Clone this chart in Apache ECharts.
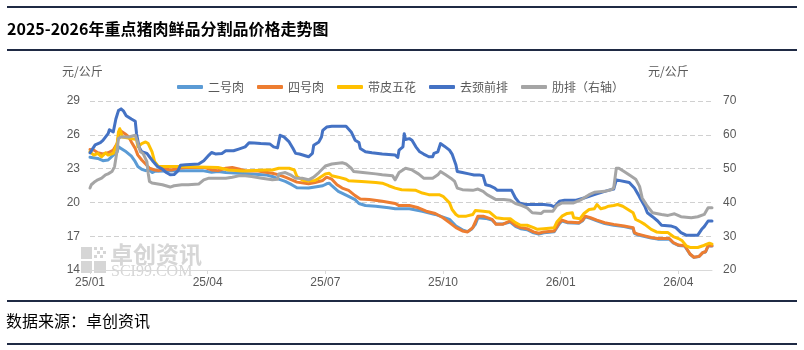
<!DOCTYPE html>
<html><head><meta charset="utf-8">
<script src="https://cdn.jsdelivr.net/npm/echarts@6/dist/echarts.min.js"></script>
<style>html,body{margin:0;padding:0;background:#fff}#c{width:804px;height:350px}</style>
</head><body><div id="c"></div>
<script>
// x values are day offsets from startDate (2025-01-01)
const startDate = '2025-01-01';
const tickLabels = ['25/01','25/04','25/07','25/10','26/01','26/04'];
const seriesNames = ['二号肉','四号肉','带皮五花','去颈前排','肋排（右轴）'];
const erhao = [[0,24.0],[6,23.9],[10,23.7],[14,23.76],[18,24.2],[21,24.49],[22,24.93],[24,24.78],[28,24.49],[32,24.1],[35,23.61],[37,23.18],[40,22.94],[43,22.82],[46,22.88],[48,22.65],[50,22.76],[68,22.82],[87,22.82],[94,22.68],[99,22.74],[105,22.65],[115,22.59],[125,22.53],[136,22.44],[141,22.3],[146,22.06],[151,21.86],[156,21.57],[160,21.3],[169,21.27],[174,21.36],[180,21.48],[183,21.65],[185,21.71],[187,21.48],[192,20.98],[200,20.54],[205,20.25],[208,19.9],[213,19.72],[221,19.66],[231,19.52],[236,19.43],[247,19.43],[257,19.22],[267,18.93],[278,18.49],[283,17.91],[288,17.56],[292,17.41],[295,17.61],[298,18.05],[300,18.64],[306,18.58],[311,18.43],[314,18.08],[319,18.08],[325,18.25],[329,17.88],[333,17.66],[338,17.58],[343,17.3],[347,17.18],[351,17.3],[359,17.4],[363,18.12],[365,18.35],[369,18.2],[378,18.15],[381,18.38],[383,18.72],[387,18.58],[392,18.36],[398,18.12],[405,17.98],[413,17.85],[420,17.68],[421,17.25],[424,17.1],[429,16.97],[434,16.83],[439,16.74],[448,16.74],[451,16.4],[455,16.18],[460,16.12],[464,15.4],[467,15.12],[471,15.2],[474,15.55],[476,15.6],[478,16.12],[481,16.12]];
const sihao = [[0,24.7],[3,24.64],[6,24.4],[10,24.29],[14,24.4],[18,24.64],[21,25.22],[23,26.4],[24,26.54],[27,26.1],[30,25.81],[32,25.37],[35,24.78],[37,24.2],[40,23.76],[43,23.41],[46,23.03],[50,22.88],[53,22.82],[58,22.97],[63,22.88],[68,23.03],[74,23.09],[89,23.09],[94,22.88],[99,22.82],[105,23.03],[110,23.09],[115,22.97],[120,22.82],[130,22.79],[136,22.68],[141,22.59],[146,22.44],[151,22.24],[156,22.0],[160,21.8],[169,21.65],[174,21.77],[180,21.95],[183,22.24],[187,22.06],[191,21.57],[195,21.27],[200,21.07],[205,20.6],[209,20.31],[216,20.25],[226,20.1],[236,19.9],[239,19.72],[247,19.72],[254,19.52],[260,19.22],[267,19.02],[273,18.64],[278,18.2],[283,17.76],[288,17.47],[292,17.38],[296,17.76],[300,18.78],[304,18.78],[311,18.49],[314,18.05],[319,18.05],[325,18.35],[329,17.97],[333,17.76],[338,17.67],[343,17.38],[347,17.26],[351,17.38],[359,17.47],[363,18.2],[365,18.43],[369,18.26],[378,18.2],[381,18.43],[383,18.78],[387,18.64],[392,18.43],[398,18.2],[405,18.05],[413,17.91],[420,17.76],[421,17.32],[424,17.17],[429,17.03],[434,16.88],[439,16.79],[448,16.79],[451,16.44],[455,16.21],[460,16.15],[464,15.42],[467,15.13],[471,15.21],[474,15.56],[476,15.62],[478,16.15],[481,16.15]];
const daipi = [[0,24.49],[3,24.2],[6,24.35],[9,24.05],[12,24.4],[14,24.2],[18,24.35],[21,25.22],[22,26.25],[23,26.54],[25,25.81],[32,25.66],[36,25.58],[37,24.93],[40,25.22],[43,25.37],[45,25.22],[48,24.49],[50,23.61],[53,23.18],[68,23.18],[99,23.09],[107,22.88],[118,22.79],[136,22.88],[141,22.88],[146,23.03],[154,23.03],[158,22.88],[160,22.3],[162,22.15],[165,21.95],[169,21.9],[174,21.95],[177,22.15],[182,22.53],[185,22.59],[187,22.36],[192,22.24],[198,22.06],[200,21.92],[210,21.86],[221,21.77],[226,21.71],[231,21.48],[236,21.27],[241,21.13],[252,21.07],[257,20.83],[262,20.69],[270,20.69],[273,20.54],[278,19.96],[280,19.37],[283,18.93],[285,18.78],[291,18.78],[296,18.93],[298,19.28],[304,19.22],[309,19.14],[314,18.64],[320,18.55],[325,18.55],[329,18.2],[333,17.97],[338,17.97],[343,17.76],[346,17.61],[351,17.67],[359,17.76],[361,18.26],[365,18.78],[369,19.02],[373,19.08],[374,18.64],[379,18.55],[382,19.02],[386,19.37],[390,19.43],[392,19.81],[395,19.43],[398,19.52],[401,19.66],[405,19.72],[408,19.81],[412,19.66],[416,19.37],[420,19.08],[422,18.49],[426,18.26],[429,18.05],[434,17.61],[438,17.38],[442,17.32],[447,17.32],[451,16.97],[455,16.79],[458,16.59],[461,16.15],[464,16.0],[470,16.0],[474,16.15],[476,16.24],[479,16.38],[481,16.3]];
const qujing = [[0,24.4],[4,25.1],[8,25.3],[10,25.5],[14,26.1],[15,26.45],[18,26.25],[20,27.4],[22,28.15],[24,28.3],[26,28.1],[28,27.7],[32,27.4],[35,27.2],[36,26.1],[38,24.9],[40,24.5],[44,24.35],[46,24.05],[49,23.6],[52,23.2],[56,22.95],[59,22.65],[62,22.45],[65,22.47],[68,22.8],[70,23.3],[74,23.35],[84,23.4],[88,23.7],[92,24.2],[94,24.43],[97,24.3],[102,24.35],[105,24.58],[111,24.58],[115,24.73],[120,24.93],[123,25.3],[127,25.28],[132,25.22],[139,25.19],[142,24.93],[145,24.84],[147,25.96],[150,25.81],[154,25.37],[157,24.78],[159,24.35],[162,24.3],[169,24.05],[172,24.35],[173,25.08],[177,25.37],[179,25.81],[180,26.39],[183,26.69],[187,26.75],[198,26.75],[202,26.25],[205,25.52],[208,25.31],[209,24.78],[213,24.49],[218,24.4],[226,24.29],[236,24.2],[238,23.99],[239,24.64],[242,24.93],[243,26.1],[244,25.58],[247,25.66],[249,25.52],[252,24.93],[255,24.49],[258,24.29],[262,24.05],[265,24.05],[266,24.35],[269,24.49],[271,25.22],[274,24.99],[278,24.64],[280,24.29],[283,23.32],[284,22.74],[288,22.65],[293,22.53],[297,22.44],[298,22.53],[301,22.44],[304,22.36],[306,21.57],[309,21.48],[313,21.27],[315,21.07],[326,21.07],[329,20.39],[332,19.96],[336,19.81],[351,19.81],[356,19.75],[359,19.6],[363,20.1],[367,20.19],[376,20.19],[382,20.39],[390,20.69],[398,20.98],[403,21.13],[405,21.19],[407,22.0],[417,21.77],[421,21.27],[424,20.69],[426,20.25],[429,19.66],[431,19.08],[435,18.73],[439,18.35],[442,17.97],[449,17.91],[453,17.76],[457,17.32],[461,17.09],[470,17.09],[473,17.61],[475,17.85],[478,18.35],[481,18.35]];
const leipai = [[0,44.24],[1,45.22],[4,46.2],[6,46.68],[9,47.17],[12,48.15],[14,48.44],[17,49.12],[18,49.12],[19,50.59],[21,55.46],[22,58.88],[24,59.37],[30,59.37],[35,59.85],[36,59.37],[39,54.98],[41,54.49],[44,52.05],[45,48.63],[46,46.2],[48,45.71],[56,45.22],[62,44.54],[65,44.93],[71,45.22],[76,45.22],[84,45.41],[88,46.68],[92,47.17],[105,47.17],[110,47.46],[115,47.85],[120,47.85],[125,47.66],[133,47.17],[141,46.68],[145,46.88],[146,48.44],[151,48.83],[155,48.15],[159,47.17],[164,47.17],[169,46.68],[173,47.46],[177,48.83],[182,50.78],[187,51.37],[195,51.76],[198,51.37],[202,50.1],[204,49.12],[211,48.83],[221,48.44],[226,48.15],[234,47.85],[236,46.68],[239,48.83],[244,50.1],[249,49.61],[254,48.44],[258,47.17],[265,47.17],[269,48.15],[271,49.12],[275,48.15],[279,47.17],[282,46.2],[284,44.24],[288,43.76],[296,43.56],[300,43.95],[304,43.27],[307,42.29],[314,40.83],[320,40.83],[325,40.63],[329,39.66],[334,39.07],[338,38.39],[342,36.93],[349,36.73],[351,37.41],[358,37.41],[361,39.07],[365,39.85],[374,39.85],[380,40.83],[386,42.29],[390,42.98],[398,43.27],[403,43.76],[405,44.24],[407,50.1],[409,50.1],[413,49.12],[418,47.85],[422,46.88],[425,44.73],[427,41.32],[431,38.88],[435,36.93],[442,36.44],[447,36.15],[452,36.63],[457,35.76],[465,35.46],[470,35.76],[475,36.44],[478,38.39],[481,38.39]];
const colors = ['#5B9BD5','#ED7D31','#FFC000','#4472C4','#A5A5A5'];

const chart = echarts.init(document.getElementById('c'), null, {renderer:'canvas'});
const axisFont = 'Liberation Sans';
const dataList = [erhao, sihao, daipi, qujing, leipai];
const series = dataList.map((d, i) => ({
  name: seriesNames[i], type: 'line', data: d, yAxisIndex: i === 4 ? 1 : 0,
  showSymbol: false, symbol: 'none', smooth: false,
  lineStyle: {color: colors[i], width: 3, cap: 'round', join: 'round'},
  itemStyle: {color: colors[i]}, z: 2 + i, animation: false
}));
const line = (y) => ({type:'rect', shape:{x:7, y:y, width:790, height:2}, style:{fill:'#1f2a44'}, silent:true});
const wm = '#d6d6d6';
chart.setOption({
  animation: false,
  backgroundColor: '#fff',
  color: colors,
  grid: {left: 90, right: 92, top: 101, bottom: 80, containLabel: false},
  legend: {
    data: seriesNames, left: 172, top: 76, icon: 'roundRect', itemWidth: 26, itemHeight: 4, itemGap: 13,
    textStyle: {color: '#595959', fontSize: 12, fontFamily: 'Noto Sans CJK SC'}
  },
  xAxis: {
    type: 'value', min: 0, max: 481, interval: 91,
    axisLine: {show: true, lineStyle: {color: '#d9d9d9', width: 1}},
    axisTick: {show: true, length: 4, lineStyle: {color: '#d9d9d9'}},
    splitLine: {show: false},
    axisLabel: {color: '#595959', fontSize: 12, fontFamily: axisFont, margin: 7, showMaxLabel: false,
      formatter: v => (Math.abs(v / 91 - Math.round(v / 91)) < 1e-6 ? (tickLabels[Math.round(v / 91)] || '') : '')}
  },
  yAxis: [
    {type: 'value', min: 14, max: 29, interval: 3, position: 'left',
     axisLine: {show: false}, axisTick: {show: false},
     splitLine: {show: true, showMinLine: false, lineStyle: {color: '#d0d0d0', type: [5, 3], width: 1}},
     axisLabel: {color: '#595959', fontSize: 12, fontFamily: axisFont, margin: 10}},
    {type: 'value', min: 20, max: 70, interval: 10, position: 'right',
     axisLine: {show: false}, axisTick: {show: false}, splitLine: {show: false},
     axisLabel: {color: '#595959', fontSize: 12, fontFamily: axisFont, margin: 11}}
  ],
  graphic: [
    line(6), line(49), line(300), line(343),
    {type:'text', left: 7, top: 21, style:{text:'2025-2026年重点猪肉鲜品分割品价格走势图', font:'bold 16px "Noto Sans CJK SC"', fill:'#000'}},
    {type:'text', left: 6, top: 313, style:{text:'数据来源：卓创资讯', font:'16px "Noto Sans CJK SC"', fill:'#000'}},
    {type:'text', left: 62, top: 65, style:{text:'元/公斤', font:'12px "Noto Sans CJK SC"', fill:'#595959'}},
    {type:'text', left: 648, top: 65, style:{text:'元/公斤', font:'12px "Noto Sans CJK SC"', fill:'#595959'}},
    {type:'rect', z: 0, silent: true, shape:{x:81, y:247, width:11, height:12}, style:{fill:wm}},
    {type:'rect', z: 0, silent: true, shape:{x:94, y:247, width:3, height:3}, style:{fill:wm}},
    {type:'rect', z: 0, silent: true, shape:{x:100, y:247, width:3, height:3}, style:{fill:wm}},
    {type:'rect', z: 0, silent: true, shape:{x:97, y:251, width:3, height:3}, style:{fill:wm}},
    {type:'rect', z: 0, silent: true, shape:{x:103, y:251, width:3, height:3}, style:{fill:wm}},
    {type:'rect', z: 0, silent: true, shape:{x:94, y:255, width:3, height:3}, style:{fill:wm}},
    {type:'rect', z: 0, silent: true, shape:{x:100, y:255, width:3, height:3}, style:{fill:wm}},
    {type:'rect', z: 0, silent: true, shape:{x:81, y:261, width:11, height:12}, style:{fill:wm}},
    {type:'rect', z: 0, silent: true, shape:{x:94, y:261, width:12, height:12}, style:{fill:wm}},
    {type:'text', z: 0, silent: true, left: 110, top: 243, style:{text:'卓创资讯', font:'bold 23px "Noto Sans CJK SC"', fill:wm}},
    {type:'text', z: 0, silent: true, left: 111, top: 264, style:{text:'SCI99.COM', font:'16px "Liberation Serif"', fill:wm}}
  ],
  series: series
});
</script></body></html>
